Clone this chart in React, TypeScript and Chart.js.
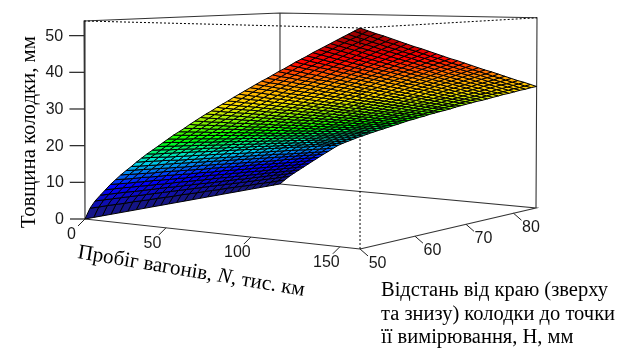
import React, { useEffect, useRef } from "react";
import { Chart, registerables } from "chart.js";

Chart.register(...registerables);

const mileage = [0,3.2,6.4,9.7,12.9,16.1,19.3,22.5,25.8,29,32.2,35.4,38.6,41.9,45.1,48.3,51.5,54.7,58,61.2,64.4,67.6,70.8,74.1,77.3,80.5,83.7,86.9,90.2,93.4,96.6,99.8,103,106.3,109.5,112.7,115.9,119.1,122.4,125.6,128.8,132,135.2,138.5,141.7,144.9,148.1,151.3,154.6,157.8,161];
const distance = [50,51.4,52.8,54.2,55.6,57,58.4,59.8,61.2,62.6,64,65.4,66.8,68.2,69.6,71,72.4,73.8,75.2,76.6,78,79.4,80.8,82.2,83.6,85];

// One row per mileage value, one column per distance value (mm).
const thickness = [
[0,0,0,0,0,0,0,0,0,0,0,0,0,0,0,0,0,0,0,0,0,0,0,0,0,0],
[3.1,3.0,3.0,2.9,2.8,2.8,2.7,2.6,2.6,2.5,2.4,2.4,2.3,2.2,2.2,2.1,2.0,2.0,1.9,1.8,1.7,1.7,1.6,1.5,1.5,1.4],
[5.2,5.1,5.0,4.9,4.8,4.7,4.6,4.5,4.4,4.3,4.2,4.1,4.0,3.9,3.8,3.7,3.6,3.5,3.4,3.3,3.2,3.1,3.0,2.9,2.8,2.7],
[6.9,6.8,6.7,6.6,6.4,6.3,6.2,6.1,6.0,5.8,5.7,5.6,5.5,5.3,5.2,5.1,5.0,4.9,4.7,4.6,4.5,4.4,4.3,4.1,4.0,3.9],
[8.5,8.4,8.3,8.1,8.0,7.8,7.7,7.5,7.4,7.3,7.1,7.0,6.8,6.7,6.6,6.4,6.3,6.1,6.0,5.8,5.7,5.6,5.4,5.3,5.1,5.0],
[10.1,9.9,9.7,9.6,9.4,9.3,9.1,8.9,8.8,8.6,8.5,8.3,8.2,8.0,7.8,7.7,7.5,7.4,7.2,7.0,6.9,6.7,6.6,6.4,6.3,6.1],
[11.5,11.3,11.1,11.0,10.8,10.6,10.5,10.3,10.1,9.9,9.8,9.6,9.4,9.3,9.1,8.9,8.7,8.6,8.4,8.2,8.1,7.9,7.7,7.5,7.4,7.2],
[12.9,12.7,12.5,12.3,12.1,12.0,11.8,11.6,11.4,11.2,11.0,10.9,10.7,10.5,10.3,10.1,10.0,9.8,9.6,9.4,9.2,9.0,8.8,8.7,8.5,8.3],
[14.2,14.0,13.8,13.6,13.4,13.2,13.0,12.8,12.6,12.5,12.3,12.1,11.9,11.7,11.5,11.3,11.1,10.9,10.7,10.5,10.4,10.2,10.0,9.8,9.6,9.4],
[15.4,15.2,15.0,14.8,14.7,14.5,14.3,14.1,13.9,13.7,13.5,13.3,13.1,12.9,12.7,12.5,12.3,12.1,11.9,11.7,11.5,11.3,11.1,10.9,10.7,10.5],
[16.7,16.5,16.3,16.1,15.9,15.6,15.4,15.2,15.0,14.8,14.6,14.4,14.2,14.0,13.8,13.6,13.4,13.2,13.0,12.7,12.5,12.3,12.1,11.9,11.7,11.5],
[17.9,17.7,17.5,17.2,17.0,16.8,16.6,16.4,16.2,16.0,15.8,15.6,15.3,15.1,14.9,14.7,14.5,14.3,14.1,13.9,13.7,13.4,13.2,13.0,12.8,12.6],
[19.1,18.8,18.6,18.4,18.2,18.0,17.8,17.5,17.3,17.1,16.9,16.7,16.5,16.2,16.0,15.8,15.6,15.4,15.2,15.0,14.7,14.5,14.3,14.1,13.9,13.6],
[20.2,20.0,19.7,19.5,19.3,19.0,18.8,18.6,18.3,18.1,17.9,17.6,17.4,17.2,16.9,16.7,16.5,16.2,16.0,15.8,15.5,15.3,15.1,14.8,14.6,14.4],
[21.3,21.1,20.8,20.6,20.3,20.1,19.8,19.6,19.3,19.1,18.8,18.6,18.3,18.1,17.8,17.6,17.3,17.1,16.8,16.6,16.3,16.1,15.8,15.6,15.3,15.1],
[22.4,22.2,21.9,21.6,21.4,21.1,20.8,20.6,20.3,20.0,19.8,19.5,19.2,19.0,18.7,18.4,18.2,17.9,17.6,17.4,17.1,16.8,16.6,16.3,16.0,15.8],
[23.5,23.2,22.9,22.7,22.4,22.1,21.8,21.5,21.2,21.0,20.7,20.4,20.1,19.8,19.6,19.3,19.0,18.7,18.4,18.1,17.9,17.6,17.3,17.0,16.7,16.5],
[24.6,24.3,24.0,23.7,23.4,23.1,22.8,22.5,22.2,21.9,21.6,21.3,21.0,20.7,20.4,20.1,19.8,19.5,19.2,18.9,18.6,18.3,18.0,17.7,17.4,17.1],
[25.6,25.3,25.0,24.7,24.3,24.0,23.7,23.4,23.1,22.8,22.5,22.1,21.8,21.5,21.2,20.9,20.6,20.3,19.9,19.6,19.3,19.0,18.7,18.4,18.1,17.8],
[26.6,26.3,26.0,25.6,25.3,25.0,24.7,24.3,24.0,23.7,23.3,23.0,22.7,22.3,22.0,21.7,21.4,21.0,20.7,20.4,20.0,19.7,19.4,19.0,18.7,18.4],
[27.7,27.3,27.0,26.6,26.3,25.9,25.6,25.2,24.9,24.6,24.2,23.9,23.5,23.2,22.8,22.5,22.1,21.8,21.4,21.1,20.8,20.4,20.1,19.7,19.4,19.0],
[28.7,28.3,27.9,27.6,27.2,26.8,26.5,26.1,25.8,25.4,25.0,24.7,24.3,24.0,23.6,23.2,22.9,22.5,22.2,21.8,21.4,21.1,20.7,20.4,20.0,19.6],
[29.7,29.3,28.9,28.5,28.2,27.8,27.4,27.0,26.6,26.3,25.9,25.5,25.1,24.8,24.4,24.0,23.6,23.2,22.9,22.5,22.1,21.7,21.4,21.0,20.6,20.2],
[30.7,30.3,29.9,29.5,29.1,28.7,28.3,27.9,27.5,27.1,26.7,26.3,26.0,25.6,25.2,24.8,24.4,24.0,23.6,23.2,22.8,22.4,22.0,21.6,21.2,20.8],
[31.6,31.2,30.8,30.4,30.0,29.6,29.2,28.7,28.3,27.9,27.5,27.1,26.7,26.3,25.9,25.5,25.1,24.7,24.3,23.9,23.5,23.0,22.6,22.2,21.8,21.4],
[32.6,32.1,31.7,31.3,30.9,30.5,30.0,29.6,29.2,28.8,28.3,27.9,27.5,27.1,26.7,26.2,25.8,25.4,25.0,24.5,24.1,23.7,23.3,22.8,22.4,22.0],
[33.5,33.1,32.6,32.2,31.8,31.3,30.9,30.4,30.0,29.6,29.1,28.7,28.3,27.8,27.4,26.9,26.5,26.1,25.6,25.2,24.7,24.3,23.9,23.4,23.0,22.6],
[34.4,34.0,33.5,33.1,32.6,32.2,31.7,31.3,30.8,30.4,29.9,29.5,29.0,28.6,28.1,27.7,27.2,26.7,26.3,25.8,25.4,24.9,24.5,24.0,23.6,23.1],
[35.4,34.9,34.4,34.0,33.5,33.0,32.6,32.1,31.6,31.2,30.7,30.2,29.8,29.3,28.8,28.3,27.9,27.4,26.9,26.5,26.0,25.5,25.1,24.6,24.1,23.7],
[36.3,35.8,35.3,34.8,34.3,33.9,33.4,32.9,32.4,31.9,31.4,31.0,30.5,30.0,29.5,29.0,28.6,28.1,27.6,27.1,26.6,26.1,25.7,25.2,24.7,24.2],
[37.2,36.7,36.2,35.7,35.2,34.7,34.2,33.7,33.2,32.7,32.2,31.7,31.2,30.7,30.2,29.7,29.2,28.7,28.2,27.7,27.2,26.7,26.2,25.7,25.2,24.8],
[38.1,37.6,37.1,36.6,36.0,35.5,35.0,34.5,34.0,33.5,33.0,32.5,32.0,31.4,30.9,30.4,29.9,29.4,28.9,28.4,27.9,27.3,26.8,26.3,25.8,25.3],
[39.0,38.5,37.9,37.4,36.9,36.3,35.8,35.3,34.8,34.2,33.7,33.2,32.7,32.1,31.6,31.1,30.6,30.0,29.5,29.0,28.5,27.9,27.4,26.9,26.3,25.8],
[39.9,39.3,38.8,38.2,37.7,37.2,36.6,36.1,35.5,35.0,34.4,33.9,33.4,32.8,32.3,31.7,31.2,30.7,30.1,29.6,29.0,28.5,28.0,27.4,26.9,26.3],
[40.7,40.2,39.6,39.1,38.5,38.0,37.4,36.8,36.3,35.7,35.2,34.6,34.1,33.5,32.9,32.4,31.8,31.3,30.7,30.2,29.6,29.1,28.5,27.9,27.4,26.8],
[41.6,41.0,40.5,39.9,39.3,38.8,38.2,37.6,37.0,36.5,35.9,35.3,34.8,34.2,33.6,33.1,32.5,31.9,31.3,30.8,30.2,29.6,29.1,28.5,27.9,27.4],
[42.5,41.9,41.3,40.7,40.1,39.5,39.0,38.4,37.8,37.2,36.6,36.0,35.5,34.9,34.3,33.7,33.1,32.5,32.0,31.4,30.8,30.2,29.6,29.0,28.4,27.9],
[43.3,42.7,42.1,41.5,40.9,40.3,39.7,39.1,38.5,37.9,37.3,36.7,36.1,35.5,34.9,34.3,33.7,33.1,32.5,31.9,31.3,30.8,30.2,29.6,29.0,28.4],
[44.2,43.6,43.0,42.4,41.8,41.1,40.5,39.9,39.3,38.7,38.1,37.5,36.8,36.2,35.6,35.0,34.4,33.8,33.2,32.6,31.9,31.3,30.7,30.1,29.5,28.9],
[45.1,44.4,43.8,43.2,42.6,41.9,41.3,40.7,40.0,39.4,38.8,38.2,37.5,36.9,36.3,35.6,35.0,34.4,33.8,33.1,32.5,31.9,31.2,30.6,30.0,29.4],
[45.9,45.2,44.6,44.0,43.3,42.7,42.0,41.4,40.7,40.1,39.5,38.8,38.2,37.5,36.9,36.3,35.6,35.0,34.3,33.7,33.1,32.4,31.8,31.1,30.5,29.8],
[46.7,46.1,45.4,44.7,44.1,43.4,42.8,42.1,41.5,40.8,40.2,39.5,38.8,38.2,37.5,36.9,36.2,35.6,34.9,34.3,33.6,33.0,32.3,31.6,31.0,30.3],
[47.6,46.9,46.2,45.5,44.9,44.2,43.5,42.9,42.2,41.5,40.9,40.2,39.5,38.9,38.2,37.5,36.8,36.2,35.5,34.8,34.2,33.5,32.8,32.2,31.5,30.8],
[48.4,47.7,47.0,46.3,45.6,45.0,44.3,43.6,42.9,42.2,41.5,40.9,40.2,39.5,38.8,38.1,37.4,36.8,36.1,35.4,34.7,34.0,33.3,32.6,32.0,31.3],
[49.2,48.5,47.8,47.1,46.4,45.7,45.0,44.3,43.6,42.9,42.2,41.5,40.8,40.1,39.4,38.7,38.0,37.3,36.6,35.9,35.2,34.5,33.8,33.1,32.5,31.8],
[50.0,49.3,48.6,47.9,47.2,46.4,45.7,45.0,44.3,43.6,42.9,42.2,41.5,40.8,40.0,39.3,38.6,37.9,37.2,36.5,35.8,35.1,34.4,33.7,32.9,32.2],
[50.8,50.1,49.4,48.6,47.9,47.2,46.5,45.7,45.0,44.3,43.6,42.8,42.1,41.4,40.7,39.9,39.2,38.5,37.8,37.0,36.3,35.6,34.9,34.1,33.4,32.7],
[51.6,50.9,50.1,49.4,48.7,47.9,47.2,46.5,45.7,45.0,44.2,43.5,42.8,42.0,41.3,40.5,39.8,39.1,38.3,37.6,36.8,36.1,35.4,34.6,33.9,33.2],
[52.4,51.6,50.9,50.1,49.4,48.6,47.9,47.1,46.4,45.6,44.9,44.1,43.4,42.6,41.9,41.1,40.4,39.6,38.9,38.1,37.3,36.6,35.8,35.1,34.3,33.6],
[53.2,52.4,51.7,50.9,50.1,49.4,48.6,47.8,47.1,46.3,45.5,44.8,44.0,43.2,42.5,41.7,40.9,40.2,39.4,38.6,37.9,37.1,36.3,35.6,34.8,34.1],
[54.0,53.2,52.4,51.7,50.9,50.1,49.3,48.5,47.8,47.0,46.2,45.4,44.6,43.9,43.1,42.3,41.5,40.7,40.0,39.2,38.4,37.6,36.8,36.1,35.3,34.5],
];

const mileageTicks = [0, 50, 100, 150];
const distanceTicks = [50, 60, 70, 80];
const thicknessTicks = [0, 10, 20, 30, 40, 50];

const colorLevels = [0, 9, 16.5, 22.5, 33, 38, 45, 54];
const colorStops = [[25,25,112],[0,0,255],[0,224,224],[0,255,0],[255,224,0],[255,160,0],[255,0,0],[139,0,0]];

const N_MAX = 161, H_MIN = 50, H_RANGE = 35, Z_MAX = 54;

// Perspective view of the 3-D box, mapped into the chart's x/y scale units.
function project(n: number, h: number, t: number) {
  const u = n / N_MAX, v = (h - H_MIN) / H_RANGE, z = t / Z_MAX;
  const w = 1 - 0.0734 * u + 0.1247 * v;
  const xb = (85 + 248.6 * u + 229.9 * v) / w;
  const yb = (219 + 11.7 * u - 12.1 * v) / w;
  const s = 1 / (0.00505 - 0.000525 * u + 0.0008 * v - 0.000065 * u * v);
  return { x: xb + z * (u + v - 1), y: yb - z * s };
}

function colorFor(t: number) {
  let k = 0;
  while (k < colorLevels.length - 2 && t > colorLevels[k + 1]) k++;
  const f = Math.min(1, Math.max(0, (t - colorLevels[k]) / (colorLevels[k + 1] - colorLevels[k])));
  const c = colorStops[k].map((a, m) => Math.round(a + (colorStops[k + 1][m] - a) * f));
  return `rgb(${c[0]},${c[1]},${c[2]})`;
}

function line(points: { x: number; y: number }[], color = "#333", width = 1, dash: number[] = []) {
  return {
    data: points, borderColor: color, borderWidth: width, borderDash: dash,
    pointRadius: 0, fill: false, tension: 0, showLine: true,
  };
}

function buildDatasets() {
  const out: any[] = [];
  const zTop = Z_MAX, hEnd = distance[distance.length - 1];
  // front (dotted) edges, above the surface
  out.push(line([project(0, H_MIN, zTop), project(N_MAX, H_MIN, zTop), project(N_MAX, hEnd, zTop)], "#000", 1, [2, 2]));
  out.push(line([project(N_MAX, H_MIN, 0), project(N_MAX, H_MIN, zTop)], "#000", 1, [2, 2]));
  // ticks
  for (const n of mileageTicks) {
    const p = project(n, H_MIN, 0);
    out.push(line([p, { x: p.x - 7, y: p.y + 7 }], "#222", 1));
  }
  for (const h of distanceTicks) {
    const p = project(N_MAX, h, 0);
    out.push(line([p, { x: p.x + 8, y: p.y + 7 }], "#222", 1));
  }
  for (const t of thicknessTicks) {
    const p = project(0, H_MIN, t);
    out.push(line([p, { x: p.x - 15, y: p.y }], "#222", 1.2));
  }
  // surface, nearest cells first (Chart.js paints the first dataset last)
  for (let j = 0; j < distance.length - 1; j++) {
    for (let i = mileage.length - 2; i >= 0; i--) {
      const a = project(mileage[i], distance[j], thickness[i][j]);
      const b = project(mileage[i + 1], distance[j], thickness[i + 1][j]);
      const c = project(mileage[i + 1], distance[j + 1], thickness[i + 1][j + 1]);
      const d = project(mileage[i], distance[j + 1], thickness[i][j + 1]);
      const mean = (thickness[i][j] + thickness[i + 1][j] + thickness[i + 1][j + 1] + thickness[i][j + 1]) / 4;
      out.push({
        data: [a, b, c, d, a], borderColor: "#000", borderWidth: 1,
        backgroundColor: colorFor(mean), fill: "shape", pointRadius: 0, tension: 0, showLine: true,
      });
    }
  }
  // box edges behind the surface
  const box = [
    [project(N_MAX, H_MIN, 0), project(0, H_MIN, 0)],
    [project(N_MAX, H_MIN, 0), project(N_MAX, hEnd, 0), project(0, hEnd, 0)],
    [project(N_MAX, hEnd, 0), project(N_MAX, hEnd, zTop), project(0, hEnd, zTop), project(0, H_MIN, zTop), project(0, H_MIN, 0)],
    [project(0, hEnd, zTop), project(0, hEnd, 0)],
  ];
  for (const b of box) out.push(line(b, "#333", 1.1));
  return out;
}

const SERIF = '"Liberation Serif", "DejaVu Serif", serif';
const SANS = '"Liberation Sans", Arial, sans-serif';

const titlePlugin = {
  id: "titles3d",
  afterDatasetsDraw(chart: any) {
    const ctx = chart.ctx;
    const sx = chart.scales.x, sy = chart.scales.y;
    ctx.save();
    ctx.fillStyle = "#1a1a1a";
    ctx.font = `16px ${SANS}`;
    ctx.textBaseline = "middle";
    for (const t of thicknessTicks) {
      const p = project(0, H_MIN, t);
      ctx.textAlign = "right";
      ctx.fillText(String(t), sx.getPixelForValue(p.x - 21), sy.getPixelForValue(p.y + 0.5));
    }
    ctx.textAlign = "center";
    for (const n of mileageTicks) {
      const p = project(n, H_MIN, 0);
      ctx.fillText(String(n), sx.getPixelForValue(p.x - 13.5), sy.getPixelForValue(p.y + 15.5));
    }
    for (const h of distanceTicks) {
      const p = project(N_MAX, h, 0);
      ctx.fillText(String(h), sx.getPixelForValue(p.x + 17.5), sy.getPixelForValue(p.y + 14.5));
    }
    ctx.fillStyle = "#000";
    ctx.textAlign = "left";
    ctx.textBaseline = "alphabetic";
    // vertical axis title
    ctx.save();
    ctx.translate(35, 228);
    ctx.rotate(-Math.PI / 2);
    ctx.font = `20.8px ${SERIF}`;
    ctx.fillText("Товщина колодки, мм", 0, 0);
    ctx.restore();
    // mileage axis title, with italic N
    ctx.save();
    ctx.translate(77, 258);
    ctx.rotate((9.5 * Math.PI) / 180);
    const parts: [string, string][] = [["Пробіг вагонів, ", "21px"], ["N", "italic 21px"], [", тис. км", "21px"]];
    let xx = 0;
    for (const [txt, f] of parts) {
      ctx.font = `${f} ${SERIF}`;
      ctx.fillText(txt, xx, 0);
      xx += ctx.measureText(txt).width;
    }
    ctx.restore();
    // distance axis title
    ctx.font = `20.5px ${SERIF}`;
    ctx.fillText("Відстань від краю (зверху", 381, 296);
    ctx.fillText("та знизу) колодки до точки", 381, 319.5);
    ctx.fillText("її вимірювання, Н, мм", 381, 343);
    ctx.restore();
  },
};

export default function App() {
  const ref = useRef<HTMLCanvasElement | null>(null);
  useEffect(() => {
    const chart = new Chart(ref.current as HTMLCanvasElement, {
      type: "line",
      data: { datasets: buildDatasets() },
      options: {
        animation: false,
        responsive: false,
        events: [],
        layout: { padding: 0 },
        plugins: { legend: { display: false }, tooltip: { enabled: false }, title: { display: false } },
        scales: {
          x: { type: "linear", min: 0, max: 626, display: false },
          y: { type: "linear", min: 0, max: 356, reverse: true, display: false },
        },
      },
      plugins: [titlePlugin],
    } as any);
    return () => chart.destroy();
  }, []);
  return (
    <div style={{ position: "fixed", left: 0, top: 0, width: 626, height: 356, background: "#fff" }}>
      <canvas ref={ref} width={626} height={356} style={{ display: "block" }} />
    </div>
  );
}
